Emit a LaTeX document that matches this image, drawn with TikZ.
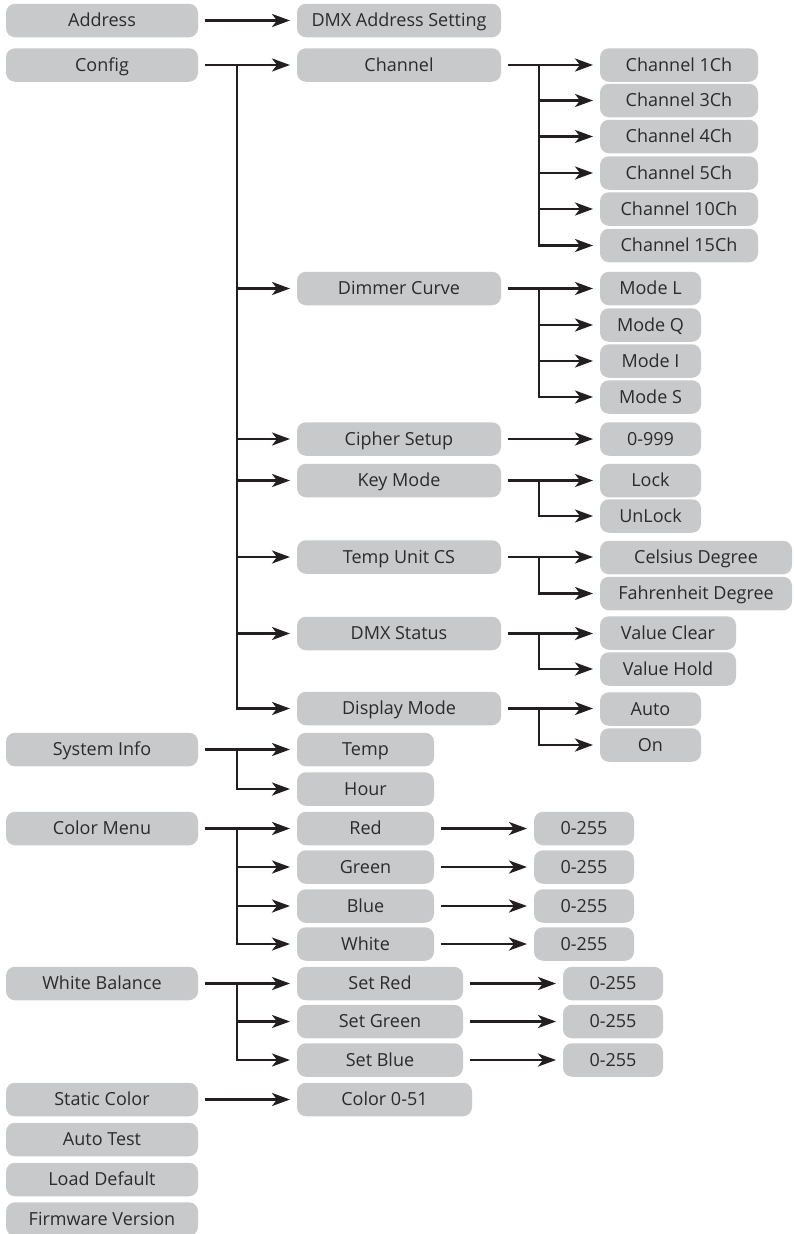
\documentclass[tikz,border=0pt]{standalone}
\usepackage{fontspec}
\setmainfont{Open Sans}
\usetikzlibrary{arrows.meta}
\definecolor{boxgray}{HTML}{C8C9CB}
\definecolor{ink}{HTML}{231F20}
\definecolor{txt}{HTML}{2B2B2B}
\tikzset{
  box/.style={rectangle, rounded corners=9pt, fill=boxgray, inner sep=0pt, outer sep=0pt,
    minimum height=33.5pt, font=\fontsize{18}{20}\selectfont, text=txt,
    text height=12.6pt, text depth=0pt},
  wA/.style={box, minimum width=192pt},
  wB/.style={box, minimum width=204pt},
  wC/.style={box, minimum width=137pt},
  wD/.style={box, minimum width=166pt},
  wE/.style={box, minimum width=175pt},
  wF/.style={box, minimum width=158pt},
  wG/.style={box, minimum width=101pt},
  wH/.style={box, minimum width=192pt},
  wI/.style={box, minimum width=136pt},
  wJ/.style={box, minimum width=100pt},
  arr/.style={draw=ink, line width=2.7pt, -{Stealth[length=18pt,width=13pt,inset=5pt]}, shorten >=7pt},
  gap/.style={shorten <=6.5pt}
}
\begin{document}
\begin{tikzpicture}[x=1pt,y=-1pt]
\path[use as bounding box] (0,0) rectangle (793,1234);
\coordinate (t1) at (237,0);
\coordinate (t2) at (539,0);
% column 1
\node[wA] (address) at (102,20.5) {Address};
\node[wA] (config) at (102,65) {Config};
\node[wA] (sysinfo) at (102,749.5) {System Info};
\node[wA] (colormenu) at (102,828.5) {Color Menu};
\node[wA] (wbal) at (102,983.5) {White Balance};
\node[wA] (static) at (102,1099.5) {Static Color};
\node[wA] (autotest) at (102,1139.5) {Auto Test};
\node[wA] (loaddef) at (102,1179.5) {Load Default};
\node[wA] (firmware) at (102,1219) {Firmware Version};
% column 2
\node[wB] (dmxaddr) at (399,20.5) {DMX Address Setting};
\node[wB] (channel) at (399,65) {Channel};
\node[wB] (dimmer) at (399,288.5) {Dimmer Curve};
\node[wB] (cipher) at (399,439) {Cipher Setup};
\node[wB] (keymode) at (399,480.5) {Key Mode};
\node[wB] (tempunit) at (399,557) {Temp Unit CS};
\node[wB] (dmxstatus) at (399,633.5) {DMX Status};
\node[wB] (display) at (399,708.5) {Display Mode};
\node[wC] (temp) at (365.5,749.5) {Temp};
\node[wC] (hour) at (365.5,789) {Hour};
\node[wC] (red) at (365.5,828.5) {Red};
\node[wC] (green) at (365.5,867) {Green};
\node[wC] (blue) at (365.5,906) {Blue};
\node[wC] (white) at (365.5,944) {White};
\node[wD] (setred) at (380,983.5) {Set Red};
\node[wD] (setgreen) at (380,1021.5) {Set Green};
\node[wD] (setblue) at (380,1060) {Set Blue};
\node[wE] (color051) at (384.5,1099.5) {Color 0-51};
% column 3
\node[wF] (ch1) at (679,65) {Channel 1Ch};
\node[wF] (ch3) at (679,100.5) {Channel 3Ch};
\node[wF] (ch4) at (679,136.5) {Channel 4Ch};
\node[wF] (ch5) at (679,173) {Channel 5Ch};
\node[wF] (ch10) at (679,209) {Channel 10Ch};
\node[wF] (ch15) at (679,245.5) {Channel 15Ch};
\node[wG] (modeL) at (650.5,288.5) {Mode L};
\node[wG] (modeQ) at (650.5,325) {Mode Q};
\node[wG] (modeI) at (650.5,361) {Mode I};
\node[wG] (modeS) at (650.5,397) {Mode S};
\node[wG] (c999) at (650.5,439) {0-999};
\node[wG] (lock) at (650.5,480.5) {Lock};
\node[wG] (unlock) at (650.5,516) {UnLock};
\node[wH] (celsius) at (696,557.5) {Celsius Degree};
\node[wH] (fahr) at (696,593.5) {Fahrenheit Degree};
\node[wI] (vclear) at (668,633) {Value Clear};
\node[wI] (vhold) at (668,669) {Value Hold};
\node[wG] (auto) at (650.5,709) {Auto};
\node[wG] (on) at (650.5,745) {On};
\node[wJ] (r255) at (584,828.5) {0-255};
\node[wJ] (g255) at (584,867) {0-255};
\node[wJ] (b255) at (584,906) {0-255};
\node[wJ] (w255) at (584,944) {0-255};
\node[wJ] (sr255) at (613,983.5) {0-255};
\node[wJ] (sg255) at (613,1021.5) {0-255};
\node[wJ] (sb255) at (613,1060) {0-255};
% connectors col1 -> col2
\draw[arr,gap] (address.east) -- (dmxaddr.west);
\draw[arr,gap] (config.east) -- (channel.west);
\foreach \n in {dimmer,cipher,keymode,tempunit,dmxstatus,display}
  \draw[arr] (t1 |- config.east) |- (\n.west);
\draw[arr,gap] (sysinfo.east) -- (temp.west);
\draw[arr] (t1 |- sysinfo.east) |- (hour.west);
\draw[arr,gap] (colormenu.east) -- (red.west);
\foreach \n in {green,blue,white}
  \draw[arr] (t1 |- colormenu.east) |- (\n.west);
\draw[arr,gap] (wbal.east) -- (setred.west);
\foreach \n in {setgreen,setblue}
  \draw[arr] (t1 |- wbal.east) |- (\n.west);
\draw[arr,gap] (static.east) -- (color051.west);
% connectors col2 -> col3
\draw[arr,gap] (channel.east) -- (ch1.west);
\foreach \n in {ch3,ch4,ch5,ch10,ch15}
  \draw[arr] (t2 |- channel.east) |- (\n.west);
\draw[arr,gap] (dimmer.east) -- (modeL.west);
\foreach \n in {modeQ,modeI,modeS}
  \draw[arr] (t2 |- dimmer.east) |- (\n.west);
\draw[arr,gap] (cipher.east) -- (c999.west);
\draw[arr,gap] (keymode.east) -- (keymode.east -| lock.west);
\draw[arr] (t2 |- keymode.east) |- (unlock.west);
\draw[arr,gap] (tempunit.east) -- (tempunit.east -| celsius.west);
\draw[arr] (t2 |- tempunit.east) |- (fahr.west);
\draw[arr,gap] (dmxstatus.east) -- (dmxstatus.east -| vclear.west);
\draw[arr] (t2 |- dmxstatus.east) |- (vhold.west);
\draw[arr,gap] (display.east) -- (display.east -| auto.west);
\draw[arr] (t2 |- display.east) |- (on.west);
% value arrows
\draw[arr,gap] (red.east) -- (r255.west);
\draw[arr,gap] (green.east) -- (g255.west);
\draw[arr,gap] (blue.east) -- (b255.west);
\draw[arr,gap] (white.east) -- (w255.west);
\draw[arr,gap] (setred.east) -- (sr255.west);
\draw[arr,gap] (setgreen.east) -- (sg255.west);
\draw[arr,gap] (setblue.east) -- (sb255.west);
\end{tikzpicture}
\end{document}
